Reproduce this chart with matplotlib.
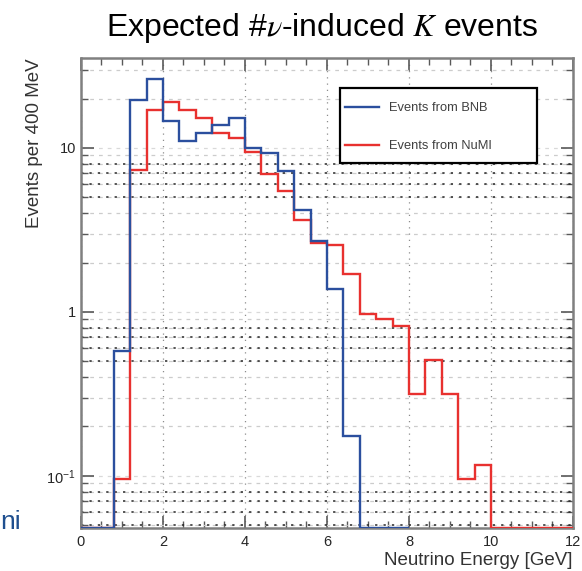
import numpy as np
import matplotlib.pyplot as plt
from matplotlib.patches import Rectangle
from matplotlib.ticker import MultipleLocator, LogLocator, NullFormatter

plt.rcParams['font.family'] = ['Liberation Sans', 'DejaVu Sans']
plt.rcParams['mathtext.fontset'] = 'stix'

# bin edges (400 MeV bins)
bnb_edges = np.arange(0, 8.01, 0.4)
numi_edges = np.arange(0, 12.01, 0.4)

# events per bin
bnb_events = [0, 0, 0.58, 19.7, 26.3, 14.6, 11.0, 12.4, 13.9, 15.3,
              10.0, 9.3, 7.2, 4.2, 2.72, 1.38, 0.175, 0, 0, 0]
numi_events = [0, 0, 0.096, 7.3, 17.0, 19.0, 17.0, 15.2, 12.4, 11.5,
               9.45, 6.9, 5.5, 3.65, 2.65, 2.56, 1.7, 0.97, 0.91, 0.82,
               0.315, 0.51, 0.315, 0.096, 0.117, 0, 0, 0, 0, 0]

y_ticks = [0.1, 1, 10]
y_ticklabels = [r'$\mathregular{10^{-1}}$', '1', '10']

ymin, ymax = 0.048, 35.4
blue = '#2b4f9e'
red = '#e8312f'

fig = plt.figure(figsize=(5.82, 5.71), dpi=100)
ax = fig.add_axes([0.139, 0.0753, 0.8455, 0.8231])

# zero bins are drawn along the bottom of the frame, like ROOT does
ax.stairs(np.clip(numi_events, ymin, None), numi_edges, baseline=None,
          color=red, lw=1.7, label='Events from NuMI', zorder=3)
ax.stairs(np.clip(bnb_events, ymin, None), bnb_edges, baseline=None,
          color=blue, lw=1.7, label='Events from BNB', zorder=4)

ax.set_yscale('log')
ax.set_xlim(0, 12)
ax.set_ylim(ymin, ymax)

ax.xaxis.set_major_locator(MultipleLocator(2))
ax.xaxis.set_minor_locator(MultipleLocator(0.5))
ax.set_yticks(y_ticks)
ax.set_yticklabels(y_ticklabels)
ax.yaxis.set_minor_locator(LogLocator(base=10, subs=np.arange(2, 10)))
ax.yaxis.set_minor_formatter(NullFormatter())

ax.tick_params(which='both', direction='in', top=True, right=True,
               color='0.35', labelsize=10.5, labelcolor='0.15')
ax.tick_params(which='major', length=9, width=1.2)
ax.tick_params(which='minor', length=5, width=1.0)
ax.tick_params(axis='x', pad=5)

# grid: light lines everywhere, darker dotted on some of the minor values
ax.grid(which='major', axis='x', color='0.55', ls=(0, (1, 4)), lw=0.9)
ax.grid(which='major', axis='y', color='0.85', ls=(0, (3, 4)), lw=0.9)
ax.grid(which='minor', axis='y', color='0.8', ls=(0, (3, 4)), lw=0.9)
dark_rows = LogLocator(base=10, subs=[5, 6, 7, 8]).tick_values(ymin, ymax)
for yv in dark_rows:
    if ymin < yv < ymax:
        ax.axhline(yv, color='0.15', ls=(0, (1.5, 4)), lw=1.1, zorder=1)
ax.set_axisbelow(True)

for s in ax.spines.values():
    s.set_color('0.5')
    s.set_linewidth(1.8)

ax.set_xlabel('Neutrino Energy [GeV]', fontsize=13.5, color='0.2')
ax.xaxis.set_label_coords(1.0, -0.052)
ax.xaxis.label.set_horizontalalignment('right')
ax.set_ylabel('Events per 400 MeV', fontsize=13.5, color='0.2')
ax.yaxis.set_label_coords(-0.078, 1.0)
ax.yaxis.label.set_horizontalalignment('right')

# legend box (ROOT style, extra room on the right)
ax.add_patch(Rectangle((0.526, 0.777), 0.401, 0.159, transform=ax.transAxes,
                       facecolor='white', edgecolor='black', lw=1.6,
                       zorder=5))
handles, labels = ax.get_legend_handles_labels()
leg = ax.legend(handles[::-1], labels[::-1], loc='upper left',
                bbox_to_anchor=(0.537, 0.906), fontsize=9.3,
                frameon=False, handlelength=2.6, handletextpad=0.8,
                labelspacing=2.0, borderpad=0, borderaxespad=0)
leg.set_zorder(6)
for t in leg.get_texts():
    t.set_color('0.25')

fig.text(0.553, 0.951, r'Expected #$\nu$-induced $K$ events',
         ha='center', va='center', fontsize=23)
fig.text(0.0, 1 - 522 / 571, 'ni', ha='left', va='center',
         fontsize=19, color='#1f4f8f')

fig.savefig('out.png', dpi=100)
